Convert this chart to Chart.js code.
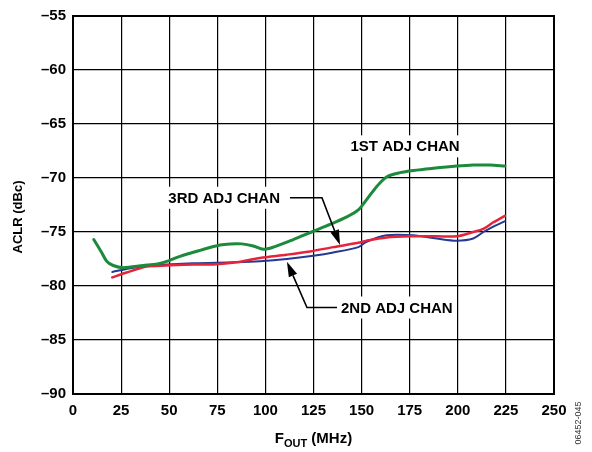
<!DOCTYPE html>
<html>
<head>
<meta charset="utf-8">
<script src="https://cdn.jsdelivr.net/npm/chart.js@4/dist/chart.umd.min.js"></script>
<style>
  html, body { margin: 0; padding: 0; background: #fff; }
</style>
</head>
<body>
<canvas id="aclrChart" width="592" height="452"></canvas>
<script>
// Axis ticks
const xTicks = [0, 25, 50, 75, 100, 125, 150, 175, 200, 225, 250];
const yTicks = [-90, -85, -80, -75, -70, -65, -60, -55];

// 1ST ADJ CHAN (green)
const adj1X = [10.8, 14.9, 17.5, 20.9, 26.1, 36.5, 44, 50, 55.6, 66, 76.4, 81.6, 87.7, 93.7, 98.9, 104.1,
  114.5, 124, 133.6, 142.3, 148.3, 152.6, 157.8, 163, 170, 176.9, 187.3, 199.4, 208, 216.7, 224.5];
const adj1Y = [-75.7, -76.9, -77.7, -78.1, -78.3, -78.1, -77.95, -77.65, -77.25, -76.7, -76.2, -76.1, -76.1, -76.3, -76.6, -76.4,
  -75.7, -75.0, -74.3, -73.6, -72.95, -72.0, -70.8, -69.9, -69.5, -69.3, -69.1, -68.9, -68.8, -68.8, -68.9];

// 2ND ADJ CHAN (blue)
const adj2X = [20.4, 31.3, 41.7, 62.5, 83.3, 97.2, 111.1, 124.9, 135.3, 148.3, 152.6, 163, 176.9, 189, 199.4,
  208, 213.3, 218.5, 224.5];
const adj2Y = [-78.7, -78.3, -78.1, -77.9, -77.8, -77.7, -77.5, -77.2, -76.9, -76.4, -75.9, -75.3, -75.3, -75.6, -75.8,
  -75.6, -75.0, -74.5, -74.0];

// 3RD ADJ CHAN (red)
const adj3X = [20.4, 27.9, 38.3, 48.7, 62.5, 72.9, 85.1, 97.2, 111.1, 123.2, 135.3, 148.3, 152.6, 163, 176.9,
  189, 199.4, 208, 213.3, 218.5, 224.5];
const adj3Y = [-79.2, -78.75, -78.2, -78.1, -78.0, -78.0, -77.8, -77.4, -77.1, -76.8, -76.4, -76.0, -75.8, -75.5, -75.4,
  -75.4, -75.4, -75.0, -74.7, -74.1, -73.5];

const toPoints = (xs, ys) => xs.map((x, i) => ({ x: x, y: ys[i] }));

const FONT = "'Liberation Sans', Arial, sans-serif";

// labels + arrows drawn in data units
const annotate = {
  id: "annotate",
  beforeDatasetsDraw(chart) {
    const ctx = chart.ctx, xs = chart.scales.x, ys = chart.scales.y;
    const labels = [
      { text: "1ST ADJ CHAN", x: 172.6, y: -67.07, align: "center" },
      { text: "3RD ADJ CHAN", x: 107.6, y: -71.83, align: "right" },
      { text: "2ND ADJ CHAN", x: 139.3, y: -81.99, align: "left" }
    ];
    ctx.save();
    ctx.font = "bold 15px " + FONT;
    ctx.textBaseline = "middle";
    labels.forEach(l => {
      const px = xs.getPixelForValue(l.x), py = ys.getPixelForValue(l.y);
      const w = ctx.measureText(l.text).width;
      let left = px;
      if (l.align === "center") left = px - w / 2;
      if (l.align === "right") left = px - w;
      ctx.fillStyle = "#fff";
      ctx.fillRect(left - 4, py - 11, w + 8, 22);
      ctx.fillStyle = "#000";
      ctx.textAlign = "left";
      ctx.fillText(l.text, left, py + 1);
    });
    ctx.restore();
  },
  afterDatasetsDraw(chart) {
    const ctx = chart.ctx, xs = chart.scales.x, ys = chart.scales.y, a = chart.chartArea;
    ctx.save();
    ctx.strokeStyle = "#000";
    ctx.fillStyle = "#000";
    ctx.lineWidth = 1.6;
    const arrows = [
      [[112.8, -71.83], [129.4, -71.83], [138.8, -76.2]],
      [[137.2, -81.99], [121.6, -81.99], [111.2, -77.75]]
    ];
    arrows.forEach(pts => {
      const p = pts.map(q => [xs.getPixelForValue(q[0]), ys.getPixelForValue(q[1])]);
      const tip = p[p.length - 1], prev = p[p.length - 2];
      const ang = Math.atan2(tip[1] - prev[1], tip[0] - prev[0]);
      const hl = 15, hw = 4.5;
      const bx = tip[0] - hl * Math.cos(ang), by = tip[1] - hl * Math.sin(ang);
      ctx.beginPath();
      ctx.moveTo(p[0][0], p[0][1]);
      for (let i = 1; i < p.length - 1; i++) ctx.lineTo(p[i][0], p[i][1]);
      ctx.lineTo(bx, by);
      ctx.stroke();
      ctx.beginPath();
      ctx.moveTo(tip[0], tip[1]);
      ctx.lineTo(bx + hw * Math.sin(ang), by - hw * Math.cos(ang));
      ctx.lineTo(bx - hw * Math.sin(ang), by + hw * Math.cos(ang));
      ctx.closePath();
      ctx.fill();
    });

    // plot frame
    ctx.lineWidth = 2;
    ctx.strokeRect(a.left, a.top, a.right - a.left, a.bottom - a.top);

    // axis titles
    ctx.fillStyle = "#000";
    ctx.textBaseline = "alphabetic";
    ctx.font = "bold 15px " + FONT;
    const f = "F", sub = "OUT", rest = " (MHz)";
    const wF = ctx.measureText(f).width, wR = ctx.measureText(rest).width;
    ctx.font = "bold 11px " + FONT;
    const wS = ctx.measureText(sub).width;
    let x0 = (a.left + a.right) / 2 - (wF + wS + wR) / 2;
    ctx.textAlign = "left";
    ctx.font = "bold 15px " + FONT;
    ctx.fillText(f, x0, 443);
    ctx.font = "bold 11px " + FONT;
    ctx.fillText(sub, x0 + wF, 447);
    ctx.font = "bold 15px " + FONT;
    ctx.fillText(rest, x0 + wF + wS, 443);

    ctx.save();
    ctx.translate(18, (a.top + a.bottom) / 2 + 12);
    ctx.rotate(-Math.PI / 2);
    ctx.textAlign = "center";
    ctx.textBaseline = "middle";
    ctx.font = "bold 13px " + FONT;
    ctx.fillText("ACLR (dBc)", 0, 0);
    ctx.restore();

    // figure id
    ctx.save();
    ctx.translate(579, 423);
    ctx.rotate(-Math.PI / 2);
    ctx.textAlign = "center";
    ctx.textBaseline = "middle";
    ctx.font = "9px " + FONT;
    ctx.fillStyle = "#333";
    ctx.fillText("06452-045", 0, 0);
    ctx.restore();
    ctx.restore();
  }
};

const ctx = document.getElementById("aclrChart").getContext("2d");
new Chart(ctx, {
  type: "line",
  data: {
    datasets: [
      { label: "1ST ADJ CHAN", data: toPoints(adj1X, adj1Y), borderColor: "#1b8a3a", borderWidth: 3, order: 0 },
      { label: "3RD ADJ CHAN", data: toPoints(adj3X, adj3Y), borderColor: "#e5243b", borderWidth: 2.5, order: 1 },
      { label: "2ND ADJ CHAN", data: toPoints(adj2X, adj2Y), borderColor: "#24398f", borderWidth: 2, order: 2 }
    ]
  },
  options: {
    responsive: false,
    animation: false,
    devicePixelRatio: 1,
    layout: { padding: { left: 0, right: 38, top: 11, bottom: 0 } },
    elements: {
      point: { radius: 0 },
      line: { tension: 0.3, fill: false, borderJoinStyle: "round", borderCapStyle: "round" }
    },
    plugins: { legend: { display: false }, tooltip: { enabled: false } },
    scales: {
      x: {
        type: "linear",
        min: xTicks[0],
        max: xTicks[xTicks.length - 1],
        afterBuildTicks: s => { s.ticks = xTicks.map(v => ({ value: v })); },
        afterFit: s => { s.height = 58; },
        grid: { color: "#000", lineWidth: 1.2, drawTicks: false },
        border: { display: false },
        ticks: { color: "#000", padding: 8, maxRotation: 0, font: { family: FONT, weight: "bold", size: 15 } }
      },
      y: {
        type: "linear",
        min: yTicks[0],
        max: yTicks[yTicks.length - 1],
        afterBuildTicks: s => { s.ticks = yTicks.map(v => ({ value: v })); },
        afterFit: s => { s.width = 73; },
        grid: { color: "#000", lineWidth: 1.2, drawTicks: false },
        border: { display: false },
        ticks: {
          color: "#000", padding: 7,
          font: { family: FONT, weight: "bold", size: 15 },
          callback: v => String(v).replace("-", "\u2013")
        }
      }
    }
  },
  plugins: [annotate]
});
</script>
</body>
</html>
